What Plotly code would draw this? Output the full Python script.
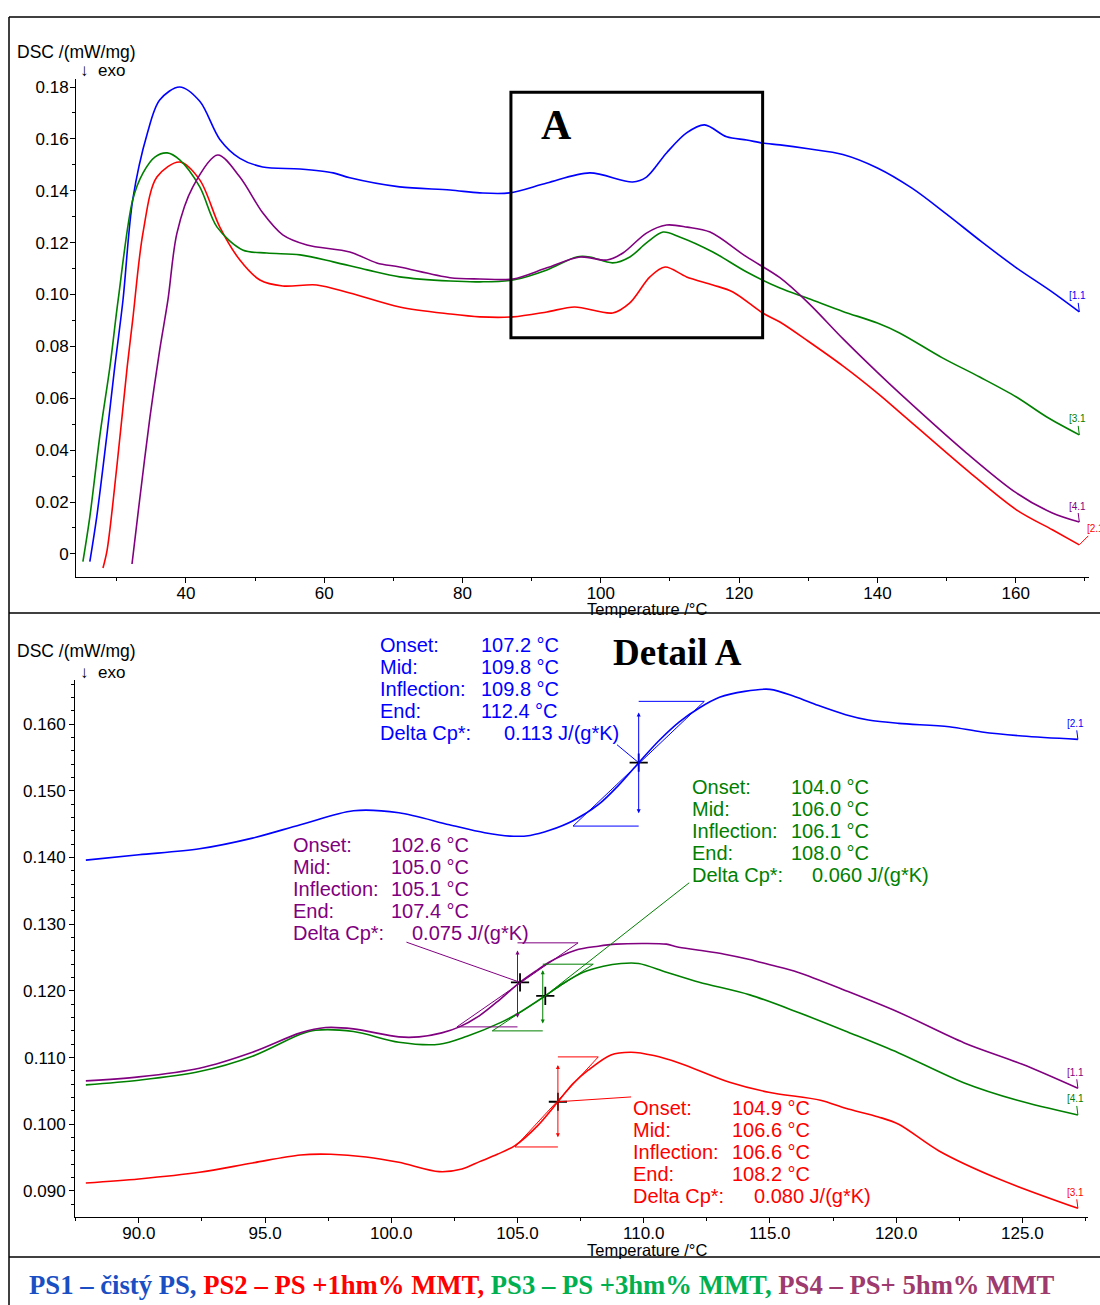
import plotly.graph_objects as go
import numpy as np

W, H = 1100, 1305

# ---------------- overview data (top panel) ----------------
ps1_t = [26.1, 27.1, 28.6, 29.7, 30.9, 32.3, 34.4, 36.2, 39.1, 42.0, 44.9, 47.8, 51.1, 56.5, 61.3, 63.7,
         70.9, 78.2, 82.5, 86.8, 92.2, 98.4, 104.6, 106.6, 109.5, 112.4, 115.0, 118.2, 121.1, 123.4, 125.9,
         130, 135, 140, 145, 150, 155, 160, 165, 169.2]
ps1_v = [-0.003, 0.0143, 0.0466, 0.072, 0.098, 0.1365, 0.162, 0.175, 0.180, 0.1745, 0.1598, 0.1525, 0.1492,
         0.1484, 0.1469, 0.145, 0.1415, 0.1403, 0.1392, 0.1392, 0.143, 0.1469, 0.1434, 0.1453, 0.1546, 0.1623,
         0.1654, 0.1608, 0.1596, 0.1584, 0.1577, 0.1562, 0.154, 0.1488, 0.141, 0.131, 0.1205, 0.1105, 0.1015, 0.0933]

ps2_t = [28.0, 28.6, 30.0, 31.5, 32.3, 33.8, 35.8, 39.1, 42.0, 44.9, 47.8, 50.7, 54.0, 58.9, 63.7, 70.9,
         78.2, 82.5, 87.3, 92.2, 96.2, 101.7, 104.2, 107.1, 109.3, 112.4, 116.2, 119.1, 123.4, 125.9,
         130, 135, 140, 143.2, 152.9, 160.1, 165.3, 169.2]
ps2_v = [-0.0054, 0.0015, 0.0335, 0.072, 0.0902, 0.124, 0.1453, 0.1511, 0.1442, 0.126, 0.1133, 0.1056,
         0.1033, 0.1037, 0.1006, 0.0952, 0.0925, 0.0914, 0.0914, 0.0933, 0.0952, 0.0929, 0.0968, 0.1068, 0.1106,
         0.1068, 0.1037, 0.101, 0.0929, 0.0894, 0.082, 0.0725, 0.062, 0.0547, 0.0324, 0.017, 0.0093, 0.0035]

ps3_t = [25.1, 26.1, 27.6, 29.0, 30.2, 32.3, 33.8, 35.5, 37.3, 39.1, 42.0, 44.5, 48.2, 51.7, 56.5, 61.3, 66.2,
         70.9, 78.2, 82.5, 87.3, 92.2, 96.5, 98.4, 101.7, 104.2, 106.6, 109.0, 111.4, 116.2, 121.1, 125.9,
         130, 135, 140, 143.2, 149.4, 154.8, 160.1, 164.5, 169.2]
ps3_v = [-0.003, 0.0143, 0.0466, 0.072, 0.098, 0.1365, 0.1469, 0.153, 0.1546, 0.1519, 0.1415, 0.126, 0.1172,
         0.116, 0.1153, 0.1126, 0.1095, 0.1068, 0.1052, 0.1049, 0.1056, 0.1095, 0.1145, 0.1145, 0.1122, 0.1145,
         0.1199, 0.1241, 0.1222, 0.1164, 0.1087, 0.1025, 0.0985, 0.0935, 0.089, 0.0852, 0.0756, 0.0682, 0.0605,
         0.0528, 0.0459]

ps4_t = [32.2, 33.3, 34.8, 36.2, 37.4, 38.7, 41.0, 44.6, 47.8, 51.1, 54.0, 57.5, 63.7, 67.6, 70.9, 78.2, 82.5,
         87.3, 92.2, 97.0, 100.9, 103.2, 106.6, 109.5, 112.5, 115.8, 121.1, 125.9, 130, 135, 140, 143.2, 152.9,
         160.1, 165.3, 169.2]
ps4_v = [-0.0039, 0.0208, 0.0528, 0.0786, 0.098, 0.1237, 0.1415, 0.1538, 0.1453, 0.1315, 0.123, 0.1191, 0.1164,
         0.1122, 0.1106, 0.1065, 0.106, 0.106, 0.1103, 0.1145, 0.1133, 0.116, 0.1237, 0.1268, 0.126, 0.1241,
         0.1145, 0.1065, 0.0968, 0.083, 0.070, 0.062, 0.0389, 0.0235, 0.0158, 0.0123]

# ---------------- detail data (bottom panel) ----------------
d1_t = [87.9, 90.0, 92.4, 94.5, 96.4, 98.5, 100.3, 102.3, 103.7, 104.7, 105.5, 106.3, 107.2, 108.2, 109.0, 109.8,
        110.6, 111.4, 112.2, 113.0, 114.0, 115.0, 116.0, 116.9, 118.0, 118.9, 120.1, 122.1, 123.4, 125.0, 127.2]
d1_v = [0.1396, 0.1404, 0.1413, 0.1429, 0.1449, 0.147, 0.1467, 0.1449, 0.1437, 0.1432, 0.1433, 0.1441, 0.1455,
        0.1479, 0.1508, 0.1542, 0.1575, 0.1603, 0.1624, 0.164, 0.1649, 0.1652, 0.1641, 0.1628, 0.1614, 0.1606,
        0.1601, 0.1596, 0.1588, 0.1582, 0.1577]

d2_t = [87.9, 90.0, 92.4, 94.5, 96.4, 97.6, 99.0, 100.3, 101.9, 102.8, 103.5, 104.2, 104.9, 105.8, 106.65, 107.2,
        107.8, 108.7, 109.5, 110.4, 111.4, 113.4, 114.95, 117.0, 118.0, 119.3, 120.1, 121.7, 124.0, 127.2]
d2_v = [0.0912, 0.0918, 0.0928, 0.0942, 0.0954, 0.0955, 0.0951, 0.0943, 0.0929, 0.0933, 0.0944, 0.0955, 0.0968,
        0.0998, 0.1036, 0.1061, 0.1081, 0.1104, 0.1108, 0.1103, 0.1092, 0.1063, 0.1048, 0.1036, 0.1024, 0.1011,
        0.1000, 0.0960, 0.0919, 0.0874]

d3_t = [87.9, 90.0, 92.4, 94.5, 96.4, 97.0, 98.5, 100.3, 101.9, 103.0, 104.3, 105.1, 106.0, 106.8, 107.6, 108.4,
        109.1, 109.8, 110.9, 112.2, 114.2, 116.1, 118.1, 120.1, 122.7, 124.8, 127.2]
d3_v = [0.1059, 0.1066, 0.1079, 0.1102, 0.1135, 0.1141, 0.1139, 0.1123, 0.112, 0.1132, 0.1152, 0.1168, 0.119,
        0.1211, 0.1228, 0.1237, 0.1241, 0.1241, 0.1228, 0.1213, 0.1194, 0.1168, 0.1138, 0.1107, 0.1062, 0.1036,
        0.1014]

d4_t = [87.9, 90.0, 92.4, 94.5, 96.4, 97.4, 98.5, 100.3, 101.1, 102.0, 102.7, 103.5, 104.3, 105.07, 105.7, 106.25,
        107.3, 108.2, 108.9, 110.0, 110.9, 111.3, 112.2, 113.2, 114.2, 115.0, 116.1, 118.1, 120.1, 122.7, 125.0, 127.2]
d4_v = [0.1065, 0.1071, 0.1084, 0.1108, 0.1137, 0.1145, 0.1143, 0.1131, 0.1131, 0.1137, 0.1146, 0.1163, 0.1187,
        0.1212, 0.1229, 0.1243, 0.1261, 0.1267, 0.127, 0.1271, 0.127, 0.1266, 0.1261, 0.1255, 0.1247, 0.1239,
        0.1228, 0.1199, 0.1168, 0.1122, 0.109, 0.1054]

# glass-transition evaluation results (detail panel)
gt_names = ["PS1", "PS4", "PS3", "PS2"]
gt_onset = [107.2, 102.6, 104.0, 104.9]
gt_mid = [109.8, 105.0, 106.0, 106.6]
gt_infl = [109.8, 105.1, 106.1, 106.6]
gt_end = [112.4, 107.4, 108.0, 108.2]
gt_dcp = [0.113, 0.075, 0.060, 0.080]
gt_low = [0.1447, 0.1146, 0.1140, 0.0966]
gt_high = [0.1634, 0.1272, 0.1240, 0.1101]

top_labels = ["[1.1", "[2.1", "[3.1", "[4.1"]
det_labels = ["[2.1", "[3.1", "[4.1", "[1.1"]

ytop_ticks = [0, 0.02, 0.04, 0.06, 0.08, 0.10, 0.12, 0.14, 0.16, 0.18]
ytop_text = ["0", "0.02", "0.04", "0.06", "0.08", "0.10", "0.12", "0.14", "0.16", "0.18"]

C_BLUE, C_RED, C_GREEN, C_PURPLE = "#0000ff", "#ff0000", "#008000", "#800080"
colors = [C_BLUE, C_RED, C_GREEN, C_PURPLE]

FONT = "Liberation Sans, Arial, sans-serif"
SERIF = "Liberation Serif, Times New Roman, serif"


def px(x):
    return x / W


def py(y):
    return 1 - y / H


fig = go.Figure()

top_sets = [(ps1_t, ps1_v), (ps2_t, ps2_v), (ps3_t, ps3_v), (ps4_t, ps4_v)]
det_sets = [(d1_t, d1_v), (d2_t, d2_v), (d3_t, d3_v), (d4_t, d4_v)]

for (t, v), c in zip(top_sets, colors):
    fig.add_trace(go.Scatter(x=t, y=v, mode="lines", xaxis="x", yaxis="y", showlegend=False,
                             line=dict(color=c, width=1.6, shape="spline", smoothing=0.9), hoverinfo="skip"))
for (t, v), c in zip(det_sets, colors):
    fig.add_trace(go.Scatter(x=t, y=v, mode="lines", xaxis="x2", yaxis="y2", showlegend=False,
                             line=dict(color=c, width=1.6, shape="spline", smoothing=0.9), hoverinfo="skip"))

annotations = []
shapes = []

# end labels
for (t, v), c, lab in zip(top_sets, colors, top_labels):
    annotations.append(dict(x=t[-1], y=v[-1], xref="x", yref="y", text=lab, showarrow=True, arrowhead=0,
                            arrowwidth=1, arrowcolor=c, ax=(16 if lab == "[2.1" else -2), ay=-16,
                            font=dict(family=FONT, size=10, color=c)))
for (t, v), c, lab in zip(det_sets, colors, det_labels):
    annotations.append(dict(x=t[-1], y=v[-1], xref="x2", yref="y2", text=lab, showarrow=True, arrowhead=0,
                            arrowwidth=1, arrowcolor=c, ax=-2, ay=-16,
                            font=dict(family=FONT, size=10, color=c)))

# construction for glass transitions
gt_colors = [C_BLUE, C_PURPLE, C_GREEN, C_RED]
gt_curves = [det_sets[0], det_sets[3], det_sets[2], det_sets[1]]
leader_ends = [(108.94, 0.1569), (100.6, 0.1273), (111.8, 0.1362), (109.5, 0.1041)]
text_pos = [(378, 479, 502, 645), (291, 389, 410, 845), (690, 789, 810, 787), (631, 730, 752, 1108)]
mk_x, mk_y = [], []
for i in range(4):
    c = gt_colors[i]
    on, mid, en, lo, hi = gt_onset[i], gt_mid[i], gt_end[i], gt_low[i], gt_high[i]
    ln = dict(color=c, width=1)
    shapes.append(dict(type="line", xref="x2", yref="y2", x0=on, x1=mid, y0=lo, y1=lo, line=ln))
    shapes.append(dict(type="line", xref="x2", yref="y2", x0=mid, x1=en, y0=hi, y1=hi, line=ln))
    shapes.append(dict(type="line", xref="x2", yref="y2", x0=on, x1=en, y0=lo, y1=hi, line=ln))
    d = hi - lo
    annotations.append(dict(x=mid, y=hi - 0.09 * d, ax=mid, ay=lo + 0.09 * d, xref="x2", yref="y2",
                            axref="x2", ayref="y2", text="", showarrow=True, arrowside="end+start",
                            arrowhead=2, arrowsize=0.8, arrowwidth=1, arrowcolor=c))
    t, v = gt_curves[i]
    yi = float(np.interp(gt_infl[i], t, v))
    mk_x.append(gt_infl[i])
    mk_y.append(yi)
    lx, ly = leader_ends[i]
    shapes.append(dict(type="line", xref="x2", yref="y2", x0=gt_infl[i], y0=yi, x1=lx, y1=ly, line=ln))
    # text block
    lx_px, vx_px, dx_px, y0_px = text_pos[i]
    labs = ["Onset:", "Mid:", "Inflection:", "End:", "Delta Cp*:"]
    vals = [f"{gt_onset[i]:.1f} °C", f"{gt_mid[i]:.1f} °C", f"{gt_infl[i]:.1f} °C", f"{gt_end[i]:.1f} °C",
            f"{gt_dcp[i]:.3f} J/(g*K)"]
    for k in range(5):
        yy = y0_px + 22 * k
        annotations.append(dict(x=px(lx_px), y=py(yy), xref="paper", yref="paper", text=labs[k],
                                showarrow=False, xanchor="left", yanchor="middle",
                                font=dict(family=FONT, size=20, color=c)))
        annotations.append(dict(x=px(dx_px if k == 4 else vx_px), y=py(yy), xref="paper", yref="paper",
                                text=vals[k], showarrow=False, xanchor="left", yanchor="middle",
                                font=dict(family=FONT, size=20, color=c)))

fig.add_trace(go.Scatter(x=mk_x, y=mk_y, mode="markers", xaxis="x2", yaxis="y2", showlegend=False,
                         marker=dict(symbol="cross-thin", size=13, line=dict(color="black", width=1.8)),
                         hoverinfo="skip"))

# detail box A in overview
shapes.append(dict(type="rect", xref="x", yref="y", x0=87.0, x1=123.4, y0=0.0833, y1=0.178,
                   line=dict(color="black", width=3)))
annotations.append(dict(x=px(556), y=py(125), xref="paper", yref="paper", text="<b>A</b>", showarrow=False,
                        xanchor="center", yanchor="middle", font=dict(family=SERIF, size=42, color="black")))
annotations.append(dict(x=px(677), y=py(652), xref="paper", yref="paper", text="<b>Detail A</b>",
                        showarrow=False, xanchor="center", yanchor="middle",
                        font=dict(family=SERIF, size=37, color="black")))

# axis titles
for ytitle, yexo, ytemp in [(52, 71, 609), (651, 672, 1250)]:
    annotations.append(dict(x=px(15), y=py(ytitle), xref="paper", yref="paper", text="DSC /(mW/mg)",
                            showarrow=False, xanchor="left", yanchor="middle",
                            font=dict(family=FONT, size=17.5, color="black")))
    annotations.append(dict(x=px(78), y=py(yexo), xref="paper", yref="paper", text="↓  exo",
                            showarrow=False, xanchor="left", yanchor="middle",
                            font=dict(family=FONT, size=17, color="black")))
    annotations.append(dict(x=px(647), y=py(ytemp), xref="paper", yref="paper", text="Temperature /°C",
                            showarrow=False, xanchor="center", yanchor="middle",
                            font=dict(family=FONT, size=16.5, color="black")))

# legend line
legend_html = ("<b><span style='color:#1a4fc4'>PS1 – čistý PS, </span>"
               "<span style='color:#ff0000'>PS2 – PS +1hm% MMT, </span>"
               "<span style='color:#00b050'>PS3 – PS +3hm% MMT, </span>"
               "<span style='color:#9e3a6e'>PS4 – PS+ 5hm% MMT</span></b>")
annotations.append(dict(x=px(542), y=py(1285), xref="paper", yref="paper", text=legend_html,
                        showarrow=False, xanchor="center", yanchor="middle",
                        font=dict(family=SERIF, size=26.7, color="black")))

# frame lines
frame = dict(color="black", width=1.5)
shapes += [
    dict(type="line", xref="paper", yref="paper", x0=px(9), x1=1.01, y0=py(17), y1=py(17), line=frame),
    dict(type="line", xref="paper", yref="paper", x0=px(9), x1=1.01, y0=py(613), y1=py(613), line=frame),
    dict(type="line", xref="paper", yref="paper", x0=px(9), x1=1.01, y0=py(1257), y1=py(1257), line=frame),
    dict(type="line", xref="paper", yref="paper", x0=px(9), x1=px(9), y0=py(17), y1=0, line=frame),
]

axis_common = dict(showline=True, linecolor="black", linewidth=1, ticks="outside", ticklen=5, tickwidth=1,
                   tickcolor="black", showgrid=False, zeroline=False,
                   tickfont=dict(family=FONT, size=17, color="black"))

fig.update_layout(
    width=W, height=H, margin=dict(l=0, r=0, t=0, b=0),
    paper_bgcolor="white", plot_bgcolor="white", showlegend=False,
    xaxis=dict(domain=[px(76), px(1089)], range=[24.1, 170.6], anchor="y", tickmode="linear", tick0=40, dtick=20,
               ticklabelstandoff=-4,
               minor=dict(ticks="outside", ticklen=3, tick0=0, dtick=10, tickcolor="black"), **axis_common),
    yaxis=dict(domain=[py(577), py(79)], range=[-0.0089, 0.1831], anchor="x", tickmode="array",
               tickvals=ytop_ticks, ticktext=ytop_text, ticklabelstandoff=-2,
               minor=dict(ticks="outside", ticklen=3, tick0=0, dtick=0.01, tickcolor="black"), **axis_common),
    xaxis2=dict(domain=[px(75), px(1088)], range=[87.47, 127.6], anchor="y2", tickmode="linear", tick0=90, dtick=5,
                tickformat=".1f", ticklabelstandoff=-4,
                minor=dict(ticks="outside", ticklen=3, tick0=0, dtick=2.5, tickcolor="black"), **axis_common),
    yaxis2=dict(domain=[py(1217), py(680)], range=[0.0861, 0.1666], anchor="x2", tickmode="linear", tick0=0.09,
                dtick=0.01, tickformat=".3f",
                minor=dict(ticks="outside", ticklen=3, tick0=0, dtick=0.002, tickcolor="black"), **axis_common),
    annotations=annotations, shapes=shapes,
)

fig.write_html("out.html", config={"displayModeBar": False},
               post_script="document.body.style.margin='0px';document.body.style.padding='0px';")
